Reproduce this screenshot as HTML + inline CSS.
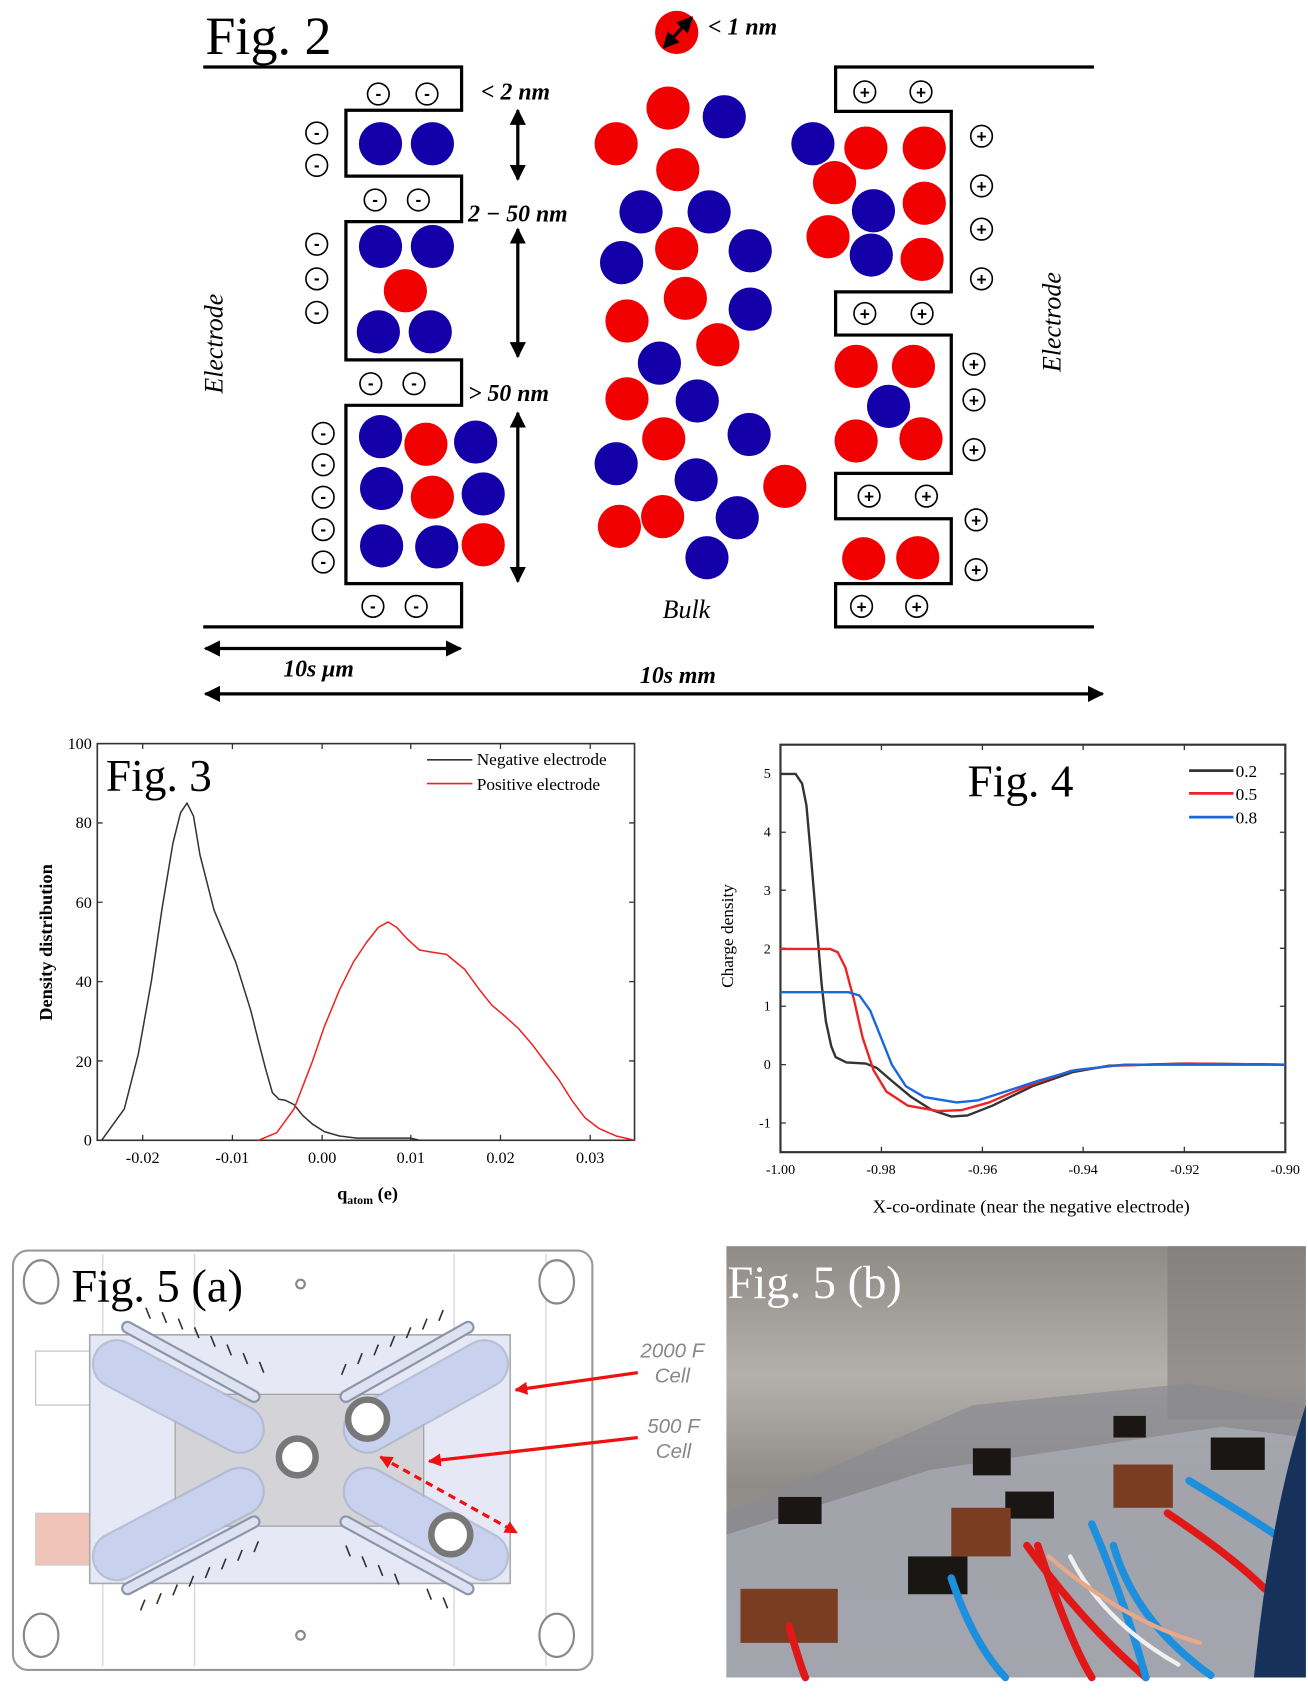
<!DOCTYPE html>
<html><head><meta charset="utf-8"><style>html,body{margin:0;padding:0;background:#fff}svg{display:block}</style></head><body>
<svg width="1308" height="1698" viewBox="0 0 1210 1571" preserveAspectRatio="none" xmlns="http://www.w3.org/2000/svg" font-family="Liberation Serif, serif">
<defs>
<marker id="ah" viewBox="0 0 10 10" refX="9" refY="5" markerWidth="5" markerHeight="5" orient="auto-start-reverse"><path d="M0,0L10,5L0,10z" fill="#000"/></marker>
<marker id="rh" viewBox="0 0 10 10" refX="9" refY="5" markerWidth="4" markerHeight="4" orient="auto-start-reverse"><path d="M0,0L10,5L0,10z" fill="#e11"/></marker>
<linearGradient id="ph" x1="0" y1="0" x2="0" y2="1"><stop offset="0" stop-color="#8e8a86"/><stop offset="0.3" stop-color="#b4b1ad"/><stop offset="0.55" stop-color="#8f8c88"/><stop offset="1" stop-color="#9a979a"/></linearGradient>
</defs>
<!-- Fig 2 -->
<text x="190" y="50" font-size="50">Fig. 2</text>
<g fill="none" stroke="#000" stroke-width="3">
<path d="M188,62H427V102H320V163H427V205H320V333H427V375H320V540H427V580H188"/>
<path d="M1012,62H773V103H880V270H773V310H880V438H773V480H880V540H773V580H1012"/>
</g>
<g fill="#fff" stroke="#000" stroke-width="1.5">
<circle cx="350" cy="87" r="10"/><circle cx="395" cy="87" r="10"/><circle cx="293" cy="123" r="10"/><circle cx="293" cy="153" r="10"/><circle cx="347" cy="185" r="10"/><circle cx="387" cy="185" r="10"/><circle cx="293" cy="226" r="10"/><circle cx="293" cy="258" r="10"/><circle cx="293" cy="289" r="10"/><circle cx="343" cy="355" r="10"/><circle cx="383" cy="355" r="10"/><circle cx="299" cy="401" r="10"/><circle cx="299" cy="430" r="10"/><circle cx="299" cy="460" r="10"/><circle cx="299" cy="490" r="10"/><circle cx="299" cy="520" r="10"/><circle cx="345" cy="561" r="10"/><circle cx="385" cy="561" r="10"/>
<circle cx="800" cy="85" r="10"/><circle cx="852" cy="85" r="10"/><circle cx="908" cy="126" r="10"/><circle cx="908" cy="172" r="10"/><circle cx="908" cy="212" r="10"/><circle cx="908" cy="258" r="10"/><circle cx="800" cy="290" r="10"/><circle cx="853" cy="290" r="10"/><circle cx="901" cy="337" r="10"/><circle cx="901" cy="370" r="10"/><circle cx="901" cy="416" r="10"/><circle cx="804" cy="459" r="10"/><circle cx="857" cy="459" r="10"/><circle cx="903" cy="481" r="10"/><circle cx="903" cy="527" r="10"/><circle cx="797" cy="561" r="10"/><circle cx="848" cy="561" r="10"/>
</g>
<g font-family="Liberation Sans, sans-serif" font-weight="bold" font-size="16" text-anchor="middle">
<text x="350" y="92">-</text><text x="395" y="92">-</text><text x="293" y="128">-</text><text x="293" y="158">-</text><text x="347" y="190">-</text><text x="387" y="190">-</text><text x="293" y="231">-</text><text x="293" y="263">-</text><text x="293" y="294">-</text><text x="343" y="360">-</text><text x="383" y="360">-</text><text x="299" y="406">-</text><text x="299" y="435">-</text><text x="299" y="465">-</text><text x="299" y="495">-</text><text x="299" y="525">-</text><text x="345" y="566">-</text><text x="385" y="566">-</text>
<text x="800" y="91">+</text><text x="852" y="91">+</text><text x="908" y="132">+</text><text x="908" y="178">+</text><text x="908" y="218">+</text><text x="908" y="264">+</text><text x="800" y="296">+</text><text x="853" y="296">+</text><text x="901" y="343">+</text><text x="901" y="376">+</text><text x="901" y="422">+</text><text x="804" y="465">+</text><text x="857" y="465">+</text><text x="903" y="487">+</text><text x="903" y="533">+</text><text x="797" y="567">+</text><text x="848" y="567">+</text>
</g>
<g fill="#1400a8">
<circle cx="352" cy="133" r="20"/><circle cx="400" cy="133" r="20"/><circle cx="352" cy="228" r="20"/><circle cx="400" cy="228" r="20"/><circle cx="350" cy="307" r="20"/><circle cx="398" cy="307" r="20"/><circle cx="352" cy="404" r="20"/><circle cx="440" cy="409" r="20"/><circle cx="353" cy="452" r="20"/><circle cx="447" cy="457" r="20"/><circle cx="353" cy="505" r="20"/><circle cx="404" cy="506" r="20"/>
<circle cx="670" cy="108" r="20"/><circle cx="593" cy="196" r="20"/><circle cx="656" cy="196" r="20"/><circle cx="575" cy="243" r="20"/><circle cx="694" cy="232" r="20"/><circle cx="694" cy="286" r="20"/><circle cx="610" cy="336" r="20"/><circle cx="645" cy="371" r="20"/><circle cx="693" cy="402" r="20"/><circle cx="570" cy="429" r="20"/><circle cx="644" cy="444" r="20"/><circle cx="682" cy="479" r="20"/><circle cx="654" cy="516" r="20"/>
<circle cx="752" cy="133" r="20"/><circle cx="808" cy="195" r="20"/><circle cx="806" cy="236" r="20"/><circle cx="822" cy="376" r="20"/>
</g>
<g fill="#f00000">
<circle cx="375" cy="269" r="20"/><circle cx="394" cy="411" r="20"/><circle cx="400" cy="460" r="20"/><circle cx="447" cy="504" r="20"/>
<circle cx="618" cy="100" r="20"/><circle cx="570" cy="133" r="20"/><circle cx="627" cy="157" r="20"/><circle cx="626" cy="230" r="20"/><circle cx="634" cy="276" r="20"/><circle cx="580" cy="297" r="20"/><circle cx="664" cy="319" r="20"/><circle cx="580" cy="369" r="20"/><circle cx="614" cy="406" r="20"/><circle cx="726" cy="450" r="20"/><circle cx="573" cy="487" r="20"/><circle cx="613" cy="478" r="20"/>
<circle cx="801" cy="137" r="20"/><circle cx="855" cy="137" r="20"/><circle cx="772" cy="169" r="20"/><circle cx="855" cy="188" r="20"/><circle cx="766" cy="219" r="20"/><circle cx="853" cy="240" r="20"/><circle cx="792" cy="339" r="20"/><circle cx="845" cy="339" r="20"/><circle cx="792" cy="408" r="20"/><circle cx="852" cy="406" r="20"/><circle cx="799" cy="517" r="20"/><circle cx="849" cy="516" r="20"/>
<circle cx="626" cy="30" r="20"/>
</g>
<line x1="614" y1="44" x2="640" y2="16" stroke="#000" stroke-width="3" marker-start="url(#ah)" marker-end="url(#ah)"/>
<g stroke="#000" stroke-width="3" marker-start="url(#ah)" marker-end="url(#ah)">
<line x1="479" y1="102" x2="479" y2="166"/><line x1="479" y1="212" x2="479" y2="330"/><line x1="479" y1="382" x2="479" y2="538"/>
<line x1="190" y1="600" x2="426" y2="600"/><line x1="190" y1="642" x2="1020" y2="642"/>
</g>
<g font-weight="bold" font-style="italic" font-size="22">
<text x="655" y="32">&lt; 1 nm</text><text x="445" y="92">&lt; 2 nm</text><text x="433" y="205">2 − 50 nm</text><text x="433" y="371">&gt; 50 nm</text>
<text x="262" y="626">10s μm</text><text x="592" y="632">10s mm</text>
</g>
<text x="635" y="572" font-style="italic" font-size="24" text-anchor="middle">Bulk</text>
<text transform="translate(206,318) rotate(-90)" font-style="italic" font-size="24" text-anchor="middle">Electrode</text>
<text transform="translate(981,298) rotate(-90)" font-style="italic" font-size="24" text-anchor="middle">Electrode</text>

<!-- Fig 3 -->
<rect x="90" y="688" width="497" height="367" fill="none" stroke="#333" stroke-width="1.5"/>
<g stroke="#333" stroke-width="1.2">
<path d="M90,981.6h5M90,908.2h5M90,834.8h5M90,761.4h5M587,981.6h-5M587,908.2h-5M587,834.8h-5M587,761.4h-5M132,1055v-5M215,1055v-5M298,1055v-5M380,1055v-5M463,1055v-5M546,1055v-5M132,688v5M215,688v5M298,688v5M380,688v5M463,688v5M546,688v5"/>
</g>
<g font-size="15" text-anchor="end"><text x="85" y="1060">0</text><text x="85" y="987">20</text><text x="85" y="913">40</text><text x="85" y="840">60</text><text x="85" y="766">80</text><text x="85" y="693">100</text></g>
<g font-size="15" text-anchor="middle"><text x="132" y="1076">-0.02</text><text x="215" y="1076">-0.01</text><text x="298" y="1076">0.00</text><text x="380" y="1076">0.01</text><text x="463" y="1076">0.02</text><text x="546" y="1076">0.03</text></g>
<text x="340" y="1110" font-size="17" font-weight="bold" text-anchor="middle">q<tspan font-size="11" dy="4">atom</tspan><tspan dy="-4"> (e)</tspan></text>
<text transform="translate(48,872) rotate(-90)" font-size="17" font-weight="bold" text-anchor="middle">Density distribution</text>
<text x="98" y="732" font-size="42">Fig. 3</text>
<line x1="395" y1="703" x2="437" y2="703" stroke="#333" stroke-width="1.5"/><line x1="395" y1="725" x2="437" y2="725" stroke="#e22" stroke-width="1.5"/>
<text x="441" y="708" font-size="16">Negative electrode</text><text x="441" y="731" font-size="16">Positive electrode</text>
<polyline fill="none" stroke="#333" stroke-width="1.4" stroke-linejoin="round" points="94,1055 115,1026 128,975 140,908 150,840 160,780 167,752 173,743 179,755 185,791 198,842 218,890 232,935 239,963 246,990 252,1011 258,1017 264,1018 272,1022 280,1032 289,1040 300,1047 314,1051 330,1053 380,1053 388,1055"/>
<polyline fill="none" stroke="#e22" stroke-width="1.4" stroke-linejoin="round" points="239,1055 256,1048 272,1026 289,982 300,950 314,916 327,890 339,872 350,858 359,853 367,858 376,868 388,879 400,881 413,883 430,897 443,915 455,930 468,941 480,952 492,966 504,982 517,999 529,1018 541,1034 554,1044 570,1051 587,1055"/>

<!-- Fig 4 -->
<rect x="722" y="689" width="467" height="377" fill="none" stroke="#333" stroke-width="2"/>
<g stroke="#333" stroke-width="1.2"><path d="M722,716h5M722,770h5M722,823.6h5M722,877.4h5M722,931h5M722,985h5M722,1039h5M1189,716h-5M1189,770h-5M1189,823.6h-5M1189,877.4h-5M1189,931h-5M1189,985h-5M1189,1039h-5M815.4,1066v-5M908.8,1066v-5M1002,1066v-5M1095.6,1066v-5M815.4,689v5M908.8,689v5M1002,689v5M1095.6,689v5"/></g>
<g font-size="13" text-anchor="end"><text x="713" y="720">5</text><text x="713" y="774">4</text><text x="713" y="828">3</text><text x="713" y="882">2</text><text x="713" y="935">1</text><text x="713" y="989">0</text><text x="713" y="1043">-1</text></g>
<g font-size="13" text-anchor="middle"><text x="722" y="1086">-1.00</text><text x="815" y="1086">-0.98</text><text x="909" y="1086">-0.96</text><text x="1002" y="1086">-0.94</text><text x="1096" y="1086">-0.92</text><text x="1189" y="1086">-0.90</text></g>
<text x="954" y="1122" font-size="17" text-anchor="middle">X-co-ordinate (near the negative electrode)</text>
<text transform="translate(678,866) rotate(-90)" font-size="16" text-anchor="middle">Charge density</text>
<text x="895" y="737" font-size="42">Fig. 4</text>
<line x1="1100" y1="713" x2="1141" y2="713" stroke="#333" stroke-width="2.5"/><line x1="1100" y1="734" x2="1141" y2="734" stroke="#e22" stroke-width="2.5"/><line x1="1100" y1="756" x2="1141" y2="756" stroke="#1a66dd" stroke-width="2.5"/>
<g font-size="16"><text x="1143" y="719">0.2</text><text x="1143" y="740">0.5</text><text x="1143" y="762">0.8</text></g>
<polyline fill="none" stroke="#333" stroke-width="2.2" stroke-linejoin="round" points="722,716 736,716 742,725 746,745 750,790 755,850 760,910 764,945 769,968 773,978 783,983 801,984 811,988 825,1000 843,1015 862,1027 880,1033 895,1032 918,1023 955,1005 992,992 1026,986 1096,984 1189,985"/>
<polyline fill="none" stroke="#e22" stroke-width="2.2" stroke-linejoin="round" points="722,878 768,878 775,881 782,895 790,925 798,960 808,990 820,1010 840,1023 868,1028 890,1027 915,1020 950,1005 990,991 1030,986 1100,984 1189,985"/>
<polyline fill="none" stroke="#1a66dd" stroke-width="2.2" stroke-linejoin="round" points="722,918 785,918 795,921 805,935 815,960 825,985 838,1005 855,1015 885,1020 905,1018 930,1010 960,1000 995,990 1040,985 1189,985"/>

<!-- Fig 5a -->
<rect x="12" y="1157" width="536" height="388" rx="14" fill="#fff" stroke="#999" stroke-width="2"/>
<g stroke="#ddd" stroke-width="1.5" fill="none"><path d="M95,1160V1542M180,1160V1542M420,1160V1542M505,1160V1542"/></g>
<g fill="#fff" stroke="#888" stroke-width="2"><ellipse cx="38" cy="1186" rx="16" ry="20"/><ellipse cx="515" cy="1186" rx="16" ry="20"/><ellipse cx="38" cy="1513" rx="16" ry="20"/><ellipse cx="515" cy="1513" rx="16" ry="20"/><circle cx="278" cy="1188" r="4"/><circle cx="278" cy="1513" r="4"/></g>
<rect x="33" y="1250" width="50" height="50" fill="#fff" stroke="#bbb"/>
<rect x="33" y="1400" width="50" height="48" fill="#f0c4b8" stroke="#ccc"/>
<rect x="83" y="1235" width="389" height="230" fill="#e6e9f5" stroke="#aaa" stroke-width="1.5"/>
<rect x="162" y="1290" width="230" height="122" fill="#d4d4d8" stroke="#999"/>
<g stroke-linecap="round" stroke="#a9b3cc" stroke-width="46" opacity="0.75">
<line x1="108" y1="1262" x2="222" y2="1322"/><line x1="340" y1="1322" x2="448" y2="1262"/><line x1="108" y1="1440" x2="222" y2="1380"/><line x1="340" y1="1380" x2="448" y2="1440"/>
</g>
<g stroke-linecap="round" stroke="#c8d2ee" stroke-width="42">
<line x1="108" y1="1262" x2="222" y2="1322"/><line x1="340" y1="1322" x2="448" y2="1262"/><line x1="108" y1="1440" x2="222" y2="1380"/><line x1="340" y1="1380" x2="448" y2="1440"/>
</g>
<g stroke-linecap="round" stroke="#8c94a8" stroke-width="12" fill="none"><line x1="118" y1="1228" x2="235" y2="1292"/><line x1="320" y1="1292" x2="433" y2="1228"/><line x1="118" y1="1470" x2="235" y2="1408"/><line x1="320" y1="1408" x2="433" y2="1470"/></g>
<g stroke-linecap="round" stroke="#dde2f2" stroke-width="8" fill="none"><line x1="118" y1="1228" x2="235" y2="1292"/><line x1="320" y1="1292" x2="433" y2="1228"/><line x1="118" y1="1470" x2="235" y2="1408"/><line x1="320" y1="1408" x2="433" y2="1470"/></g>
<g fill="#fff" stroke="#777" stroke-width="6"><circle cx="340" cy="1313" r="18"/><circle cx="275" cy="1348" r="17"/><circle cx="417" cy="1420" r="18"/></g>
<g stroke="#333" stroke-width="1.5"><path d="M135,1210l4,10M150,1214l4,10M165,1220l4,10M180,1228l4,10M195,1236l4,10M210,1244l4,10M225,1252l4,10M240,1260l4,10M410,1212l-4,10M395,1220l-4,10M380,1228l-4,10M365,1236l-4,10M350,1244l-4,10M335,1252l-4,10M320,1262l-4,10M130,1490l4,-10M145,1484l4,-10M160,1476l4,-10M175,1468l4,-10M190,1460l4,-10M205,1452l4,-10M220,1444l4,-10M235,1436l4,-10M320,1430l4,10M335,1440l4,10M350,1448l4,10M365,1456l4,10M395,1470l4,10M410,1478l4,10"/></g>
<g stroke="#e11" stroke-width="3"><line x1="590" y1="1270" x2="477" y2="1286" marker-end="url(#rh)"/><line x1="590" y1="1330" x2="397" y2="1352" marker-end="url(#rh)"/><line x1="352" y1="1348" x2="478" y2="1418" stroke-dasharray="7,5" marker-start="url(#rh)" marker-end="url(#rh)"/></g>
<g font-family="Liberation Sans, sans-serif" font-style="italic" font-size="19" fill="#888" text-anchor="middle"><text x="622" y="1256">2000 F</text><text x="622" y="1279">Cell</text><text x="623" y="1326">500 F</text><text x="623" y="1349">Cell</text></g>
<text x="66" y="1204" font-size="43">Fig. 5 (a)</text>

<!-- Fig 5b -->
<rect x="672" y="1153" width="536" height="399" fill="url(#ph)"/>
<rect x="1080" y="1153" width="128" height="160" fill="#7f7c79" opacity="0.6"/>
<path d="M672,1400L900,1300L1100,1280L1208,1300V1552H672Z" fill="#8a8a92" opacity="0.7"/>
<path d="M672,1420L860,1360L1130,1320L1208,1330V1552H672Z" fill="#b8bcc8" opacity="0.5"/>
<g fill="#1a1614"><rect x="720" y="1385" width="40" height="25"/><rect x="900" y="1340" width="35" height="25"/><rect x="1030" y="1310" width="30" height="20"/><rect x="840" y="1440" width="55" height="35"/><rect x="930" y="1380" width="45" height="25"/><rect x="1120" y="1330" width="50" height="30"/></g>
<g fill="#7a3d22"><rect x="685" y="1470" width="90" height="50"/><rect x="880" y="1395" width="55" height="45"/><rect x="1030" y="1355" width="55" height="40"/></g>
<g fill="none" stroke-width="7" stroke-linecap="round">
<path d="M730,1505Q740,1540 745,1552" stroke="#e01818"/><path d="M950,1430Q1000,1500 1060,1552" stroke="#e01818"/><path d="M960,1430Q990,1520 1010,1552" stroke="#e01818"/><path d="M1080,1400Q1140,1440 1170,1470" stroke="#e01818"/>
<path d="M880,1460Q900,1520 930,1552" stroke="#1d8fdc"/><path d="M1010,1410Q1040,1480 1060,1552" stroke="#1d8fdc"/><path d="M1100,1370Q1150,1400 1180,1420" stroke="#1d8fdc"/><path d="M1030,1430Q1050,1500 1120,1550" stroke="#1d8fdc"/>
<path d="M990,1440Q1020,1500 1090,1540" stroke="#f0f0f0" stroke-width="4"/><path d="M970,1440Q1040,1500 1110,1520" stroke="#e8a88a" stroke-width="4"/>
</g>
<path d="M1160,1552Q1175,1400 1208,1300V1552Z" fill="#16325a"/>
<text x="673" y="1201" font-size="43" fill="#fff">Fig. 5 (b)</text>
</svg>
</body></html>
